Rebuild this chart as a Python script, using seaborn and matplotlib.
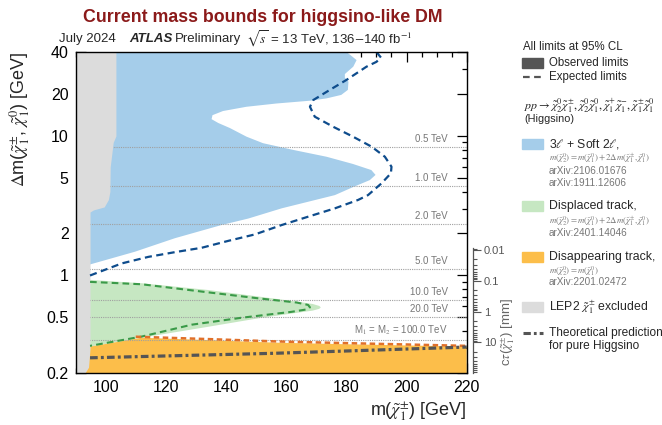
import numpy as np
import matplotlib
matplotlib.use("Agg")
import matplotlib.pyplot as plt
import seaborn as sns
from matplotlib.patches import Rectangle
from matplotlib.lines import Line2D
from matplotlib.ticker import FixedLocator, FixedFormatter, NullFormatter, LogLocator, MultipleLocator

# ---------------- data ----------------
# LEP2 chargino exclusion boundary: m(chi1+-) edge vs dm
lep_dm = [0.2, 0.22, 0.3, 2.85, 2.95, 3.1, 3.5, 4.0, 6.0, 9.0, 10.0, 40.0]
lep_m = [93.1, 94.3, 94.8, 94.8, 95.9, 99.5, 100.9, 101.4, 101.5, 102.5, 103.4, 103.4]

# 3l + soft 2l observed (right edge of excluded region)
blue_obs_dm = [1.20, 1.48, 1.85, 2.30, 2.56, 3.03, 3.77, 4.3, 4.83, 5.26, 5.7, 6.3, 7.10, 7.95,
               8.88, 9.89, 11.4, 12.4, 13.2, 14.1, 15.1, 16.2, 17.1, 17.9, 18.6, 19.7, 21.4,
               24.5, 26.2, 27.8, 31.4, 35.0, 40.0]
blue_obs_m = [94.8, 109.7, 123.0, 138.5, 147.4, 158.5, 176.2, 182.2, 187.8, 189.7, 188.3, 182.2,
              173.4, 162.3, 152.3, 146.8, 141.3, 137.4, 135.2, 135.5, 139.0, 146.8, 156.8, 167.9,
              173.4, 178.3, 180.5, 180.7, 179.5, 179.5, 182.3, 183.4, 180.1]
# 3l + soft 2l expected
blue_exp_dm = [1.0, 1.22, 1.36, 1.47, 1.58, 1.77, 1.97, 2.30, 2.64, 3.03, 3.48, 3.77, 4.58, 5.40,
               6.02, 7.10, 8.38, 9.89, 11.65, 13.75, 16.2, 18.1, 21.4, 25.2, 31.4, 34.0, 36.5, 40.0]
blue_exp_m = [94.8, 105.3, 114.2, 123.0, 131.9, 140.7, 149.6, 158.5, 167.3, 176.2, 183.9, 187.2,
              191.7, 194.8, 195.0, 192.8, 188.4, 182.2, 175.6, 169.5, 167.9, 169.0, 174.5, 180.0,
              186.7, 190.0, 191.5, 190.0]

# displaced track observed (closed contour, top -> tip -> bottom)
green_obs_m = [94.8, 112.0, 134.1, 150.7, 163.5, 168.8, 171.0, 171.5, 171.0, 168.8, 163.5, 150.7,
               134.1, 112.0, 94.8]
green_obs_dm = [0.93, 0.88, 0.787, 0.707, 0.650, 0.625, 0.605, 0.591, 0.577, 0.560, 0.540, 0.493,
                0.429, 0.358, 0.309]
# displaced track expected
green_exp_m = [94.8, 112.0, 134.1, 150.7, 163.5, 167.3, 167.9, 166.5, 161.8, 145.2, 128.6, 112.0, 94.8]
green_exp_dm = [0.90, 0.865, 0.757, 0.686, 0.640, 0.615, 0.591, 0.570, 0.549, 0.498, 0.444, 0.365, 0.313]

# disappearing track observed (upper edge)
orange_obs_m = [94.8, 112.0, 134.1, 156.3, 178.5, 200.6, 220.0]
orange_obs_dm = [0.309, 0.358, 0.344, 0.330, 0.322, 0.315, 0.309]
# disappearing track expected
orange_exp_m = [110.0, 134.1, 156.3, 178.5, 200.6, 220.0]
orange_exp_dm = [0.364, 0.350, 0.337, 0.328, 0.320, 0.313]

# theoretical prediction, pure higgsino
theory_m = [94.8, 123.0, 156.3, 189.5, 220.0]
theory_dm = [0.257, 0.266, 0.277, 0.292, 0.307]

# M1 = M2 reference lines
ref_dm = [8.38, 4.40, 2.34, 1.12, 0.667, 0.506, 0.344]
ref_labels = ["0.5 TeV", "1.0 TeV", "2.0 TeV", "5.0 TeV", "10.0 TeV", "20.0 TeV",
              r"M$_1$ = M$_2$ = 100.0 TeV"]

xticks = [100, 120, 140, 160, 180, 200, 220]
yticks = [0.2, 0.5, 1, 2, 5, 10, 20, 40]
ytick_labels = ["0.2", "0.5", "1", "2", "5", "10", "20", "40"]
ctau_ticks = [0.01, 0.1, 1, 10]
ctau_labels = ["0.01", "0.1", "1", "10"]

# ---------------- style ----------------
sns.set_theme(style="ticks")
plt.rcParams["font.family"] = ["Liberation Sans", "DejaVu Sans"]
plt.rcParams["mathtext.fontset"] = "stix"

C_BLUE = "#a5cdea"
C_BLUE_L = "#0e4c8c"
C_GREEN = "#c6e7c2"
C_GREEN_L = "#3a9a48"
C_ORANGE = "#fcbe4a"
C_ORANGE_L = "#e0702a"
C_LEP = "#dcdcdc"
C_TH = "#555555"
C_REF = "#a0a0a0"

W, H = 662, 425
fig = plt.figure(figsize=(W / 100, H / 100), dpi=100)
fig.patch.set_facecolor("white")


def fx(px):
    return px / W


def fy(py):
    return 1 - py / H


ax = fig.add_axes([fx(75.6), fy(373), fx(466.7) - fx(75.6), fy(52) - fy(373)])
ax.set_yscale("log")
ax.set_xlim(90, 220)
ax.set_ylim(0.2, 40)

# filled regions
ax.fill(blue_obs_m + [90, 90], blue_obs_dm + [40.0, 1.20], color=C_BLUE, lw=0, zorder=1)
ax.fill(green_obs_m + [90, 90], green_obs_dm + [0.309, 0.93], color=C_GREEN, lw=0, zorder=1)
ax.fill(orange_obs_m + [220, 90, 90], orange_obs_dm + [0.2, 0.2, 0.309], color=C_ORANGE, lw=0, zorder=1)
ax.fill_betweenx(lep_dm, 90, lep_m, color=C_LEP, lw=0, zorder=2)

# reference lines
for v, lab in zip(ref_dm, ref_labels):
    ax.axhline(v, color=C_REF, lw=0.8, ls=(0, (1, 1)), zorder=1.5)
    ax.annotate(lab, xy=(0.952, v), xycoords=("axes fraction", "data"), xytext=(0, 2),
                textcoords="offset points", ha="right", va="bottom", fontsize=7, color="#777777",
                zorder=3)

# expected / theory lines via seaborn
sns.lineplot(x=blue_exp_m, y=blue_exp_dm, sort=False, estimator=None, ax=ax, color=C_BLUE_L,
             lw=1.6, linestyle=(0, (3.2, 2.0)), zorder=4)
sns.lineplot(x=green_exp_m, y=green_exp_dm, sort=False, estimator=None, ax=ax, color=C_GREEN_L,
             lw=1.5, linestyle=(0, (3.2, 2.0)), zorder=4)
sns.lineplot(x=orange_exp_m, y=orange_exp_dm, sort=False, estimator=None, ax=ax, color=C_ORANGE_L,
             lw=1.8, linestyle=(0, (2.2, 1.4)), zorder=4)
sns.lineplot(x=theory_m, y=theory_dm, sort=False, estimator=None, ax=ax, color=C_TH,
             lw=2.3, linestyle=(0, (2.4, 1.0, 0.9, 1.0)), zorder=4)

ax.set_xlim(90, 220)
ax.set_ylim(0.2, 40)

# ticks
ax.xaxis.set_major_locator(FixedLocator(xticks))
ax.xaxis.set_minor_locator(MultipleLocator(5))
ax.yaxis.set_major_locator(FixedLocator(yticks))
ax.yaxis.set_major_formatter(FixedFormatter(ytick_labels))
ax.yaxis.set_minor_locator(LogLocator(base=10, subs=np.arange(2, 10) * 1.0, numticks=20))
ax.yaxis.set_minor_formatter(NullFormatter())
ax.tick_params(which="both", direction="in", top=True, right=True, colors="black",
               labelsize=11.5, width=0.9)
ax.tick_params(which="major", length=7, pad=5)
ax.tick_params(which="minor", length=3.5)
for s in ax.spines.values():
    s.set_linewidth(1.0)
    s.set_color("black")
    s.set_zorder(6)

ax.set_xlabel(r"m($\tilde{\chi}^{\pm}_{1}$) [GeV]", fontsize=13, loc="right")
ax.xaxis.set_label_coords(1.0, -0.085)
ax.xaxis.label.set_va("top")
ax.set_ylabel(r"$\Delta$m($\tilde{\chi}^{\pm}_{1}$, $\tilde{\chi}^{0}_{1}$) [GeV]", fontsize=13, loc="top")
ax.yaxis.set_label_coords(-0.111, 1.0)

# c tau axis
ax2 = fig.add_axes([fx(473) - 0.0001, fy(373), 0.0001, fy(248) - fy(373)])
ax2.set_yscale("log")
ax2.set_ylim(100, 0.0086)
ax2.patch.set_visible(False)
for k in ["left", "top", "bottom"]:
    ax2.spines[k].set_visible(False)
ax2.spines["right"].set_color("#555555")
ax2.spines["right"].set_linewidth(0.9)
ax2.set_xticks([])
ax2.yaxis.tick_right()
ax2.yaxis.set_major_locator(FixedLocator(ctau_ticks))
ax2.yaxis.set_major_formatter(FixedFormatter(ctau_labels))
ax2.yaxis.set_minor_locator(LogLocator(base=10, subs=np.arange(2, 10) * 1.0, numticks=20))
ax2.yaxis.set_minor_formatter(NullFormatter())
ax2.tick_params(which="both", direction="out", colors="#555555", labelsize=8, width=0.8)
ax2.tick_params(which="major", length=6, pad=2)
ax2.tick_params(which="minor", length=3)
fig.text(fx(508), fy(332), r"c$\tau$($\tilde{\chi}^{\pm}_{1}$) [mm]", rotation=90, ha="center",
         va="center", fontsize=9.5, color="#666666")

# header texts
fig.text(fx(263), fy(17), "Current mass bounds for higgsino-like DM", ha="center", va="center",
         fontsize=12.8, fontweight="bold", color="#8b1a1a")
fig.text(fx(59), fy(39), "July 2024", ha="left", va="center", fontsize=9.5)
fig.text(fx(129), fy(39), "ATLAS", ha="left", va="center", fontsize=9.5, fontweight="bold",
         fontstyle="italic")
fig.text(fx(175), fy(39), "Preliminary", ha="left", va="center", fontsize=9.5)
fig.text(fx(246), fy(39), r"$\sqrt{s}$ = 13 TeV, 136$-$140 fb$^{-1}$", ha="left", va="center",
         fontsize=9.5)

# legend (drawn manually)
LX = 522
TX = 549
fig.text(fx(523), fy(47), "All limits at 95% CL", ha="left", va="center", fontsize=8.3)
fig.add_artist(Rectangle((fx(LX), fy(68)), fx(21), fy(58) - fy(68), color="#555555",
                         transform=fig.transFigure))
fig.text(fx(TX), fy(63), "Observed limits", ha="left", va="center", fontsize=8.3)
fig.add_artist(Line2D([fx(LX + 1), fx(LX + 21)], [fy(77), fy(77)], color="#555555", lw=1.6,
                      ls=(0, (3.0, 2.0)), transform=fig.transFigure))
fig.text(fx(TX), fy(77), "Expected limits", ha="left", va="center", fontsize=8.3)
fig.text(fx(524), fy(106),
         r"$pp \rightarrow \tilde{\chi}^{0}_{2}\tilde{\chi}^{\pm}_{1}, \tilde{\chi}^{0}_{2}\tilde{\chi}^{0}_{1},"
         r" \tilde{\chi}^{+}_{1}\tilde{\chi}^{-}_{1}, \tilde{\chi}^{\pm}_{1}\tilde{\chi}^{0}_{1}$",
         ha="left", va="center", fontsize=8.6)
fig.text(fx(524), fy(119), "(Higgsino)", ha="left", va="center", fontsize=7.8)

entries = [
    (C_BLUE, 144, r"3$\ell$ + Soft 2$\ell$,",
     [(158, r"$m(\tilde{\chi}^{0}_{2}) = m(\tilde{\chi}^{0}_{1}) + 2\Delta m(\tilde{\chi}^{\pm}_{1}, \tilde{\chi}^{0}_{1})$", 6.3),
      (171, "arXiv:2106.01676", 7.2), (183, "arXiv:1911.12606", 7.2)]),
    (C_GREEN, 206, "Displaced track,",
     [(221, r"$m(\tilde{\chi}^{0}_{2}) = m(\tilde{\chi}^{0}_{1}) + 2\Delta m(\tilde{\chi}^{\pm}_{1}, \tilde{\chi}^{0}_{1})$", 6.3),
      (233, "arXiv:2401.14046", 7.2)]),
    (C_ORANGE, 257, "Disappearing track,",
     [(271, r"$m(\tilde{\chi}^{0}_{2}) = m(\tilde{\chi}^{0}_{1})$", 6.3),
      (282, "arXiv:2201.02472", 7.2)]),
    (C_LEP, 307, r"LEP2 $\tilde{\chi}^{\pm}_{1}$ excluded", []),
]
for col, yy, lab, subs in entries:
    fig.add_artist(Rectangle((fx(LX), fy(yy + 5)), fx(21), fy(yy - 5) - fy(yy + 5), color=col,
                             transform=fig.transFigure))
    fig.text(fx(TX), fy(yy), lab, ha="left", va="center", fontsize=8.8)
    for sy, st, fs in subs:
        fig.text(fx(TX), fy(sy), st, ha="left", va="center", fontsize=fs, color="#777777")

fig.add_artist(Line2D([fx(LX + 1), fx(LX + 21)], [fy(333), fy(333)], color=C_TH, lw=2.2,
                      ls=(0, (2.4, 1.0, 0.9, 1.0)), transform=fig.transFigure))
fig.text(fx(TX), fy(333), "Theoretical prediction", ha="left", va="center", fontsize=8.6)
fig.text(fx(TX), fy(346), "for pure Higgsino", ha="left", va="center", fontsize=8.6)

fig.savefig("out.png", dpi=100)
